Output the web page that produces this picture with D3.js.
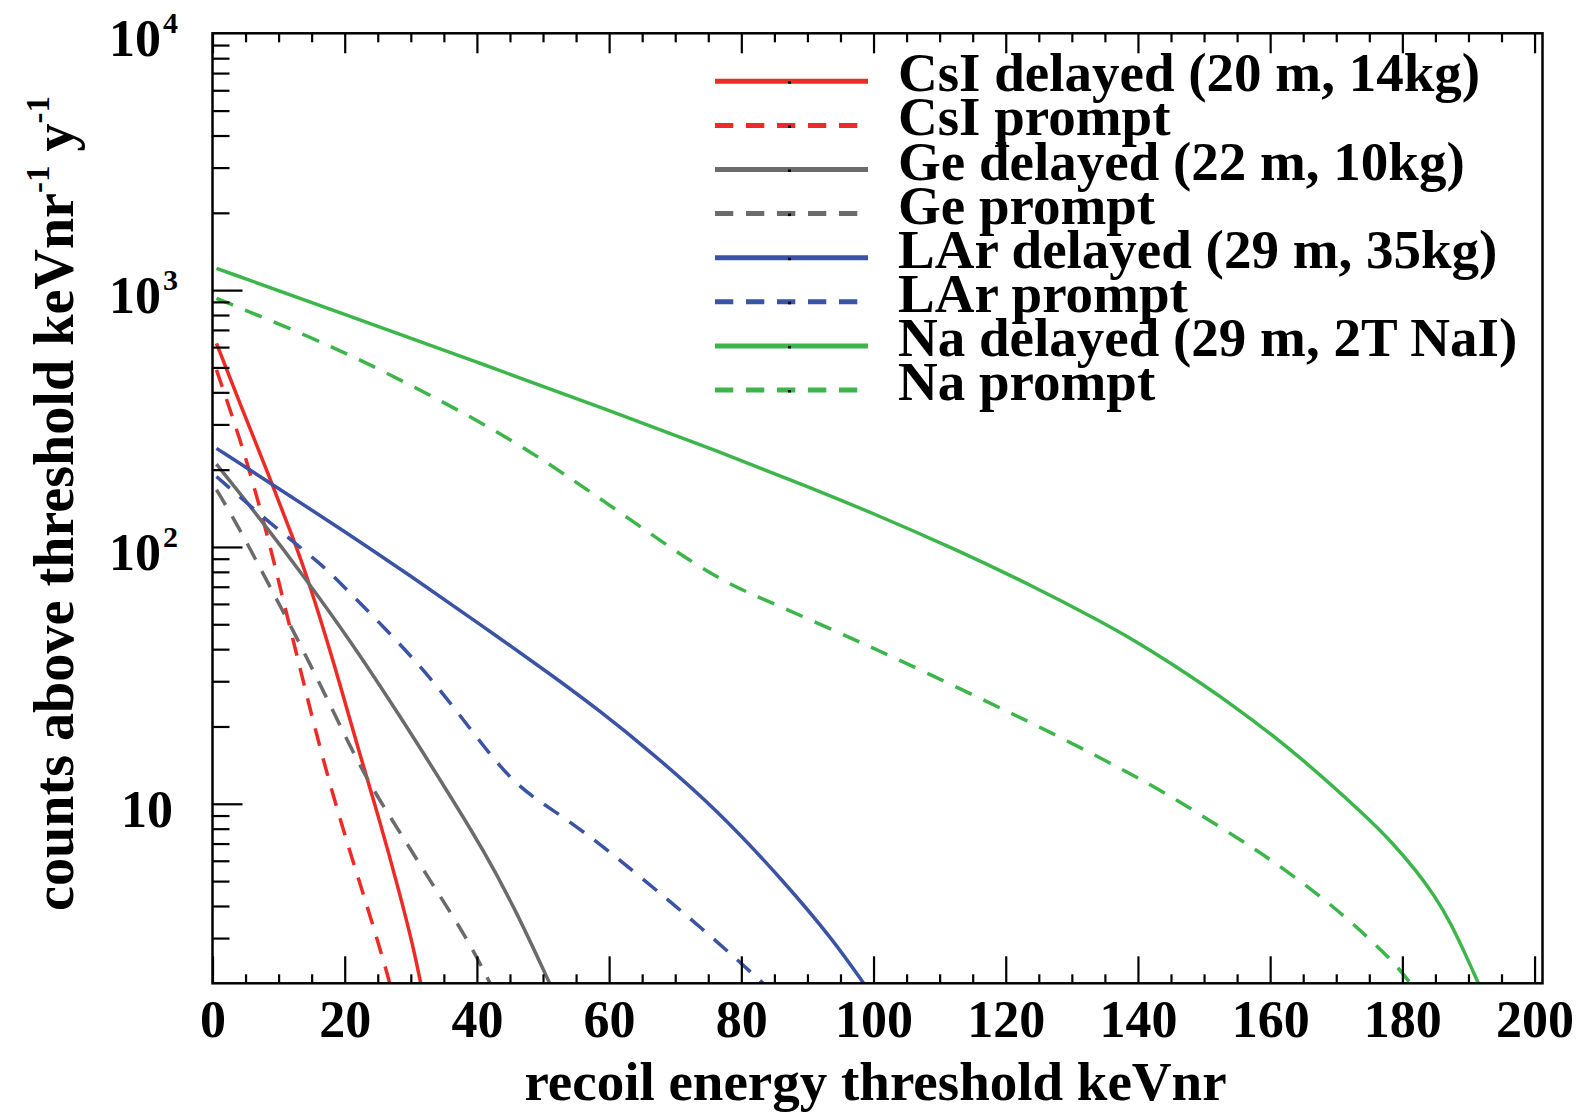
<!DOCTYPE html>
<html>
<head>
<meta charset="utf-8">
<script src="https://cdn.jsdelivr.net/npm/d3@7"></script>
<style>
body { margin: 0; background: #fff; }
svg text { font-family: "Liberation Serif", "Times New Roman", serif; font-weight: bold; fill: #000; }
</style>
</head>
<body>
<svg id="chart" width="1578" height="1112" viewBox="0 0 1578 1112"></svg>
<script>
// curves: [threshold keVnr, counts]
const csiDelayed = [[0.6,621],[4,370],[8.7,185],[12.2,108],[14.3,77],[18.3,36],[22.3,15.5],[25.3,8.6],[28.4,4.4],[30.4,2.75],[31.5,2.0]]
const csiPrompt = [[0.6,489],[4.2,262],[6.7,158],[8.7,101],[10.2,70],[12.7,38.5],[15.3,20.5],[18.3,10.6],[21.3,5.9],[23.8,3.7],[26.4,2.2],[26.8,2.0]]
const geDelayed = [[0.6,210],[7.2,129],[14.3,74],[20.8,43.3],[28.4,21.9],[35.9,10.8],[41,6.6],[46,3.8],[51,2.0]]
const gePrompt = [[0.6,167],[3.7,123],[8.2,74],[11.7,50],[15.8,31],[20.3,17.8],[23.5,12.3],[26.4,9.3],[33.4,4.8],[38.5,3.0],[42,2.0]]
const larDelayed = [[0.6,242],[10,169],[20,115],[30,77],[40,51],[51.1,32],[58.6,23],[66.2,16.0],[76.3,9.5],[86.4,5.0],[93.9,2.95],[98.5,2.0]]
const larPrompt = [[0.6,188],[8.2,127],[12.2,105],[16.3,86],[18.3,77],[26.4,47.4],[33.4,30.3],[41,16.7],[45,12.6],[48.5,10.6],[51.1,9.6],[56.1,7.8],[61.2,6.17],[68.7,4.27],[73.8,3.31],[79.3,2.48],[83.3,2.0]]
const naDelayed = [[0.6,1216],[20,805],[40,525],[60,340],[77,233],[90,172],[100,135],[112,99],[124.2,70.3],[134.3,51.4],[139.3,43.5],[144.4,36.1],[154.5,24.2],[164.5,15.3],[174.6,8.9],[178.5,7.05],[182.2,5.46],[185,4.33],[187.2,3.48],[189.8,2.51],[191.5,2.0]]
const naPrompt = [[0.6,929],[14.75,659],[25,497],[35.4,361],[42,291],[48.5,231],[53.5,190],[58.6,154.5],[66.8,110],[72.7,86.7],[77.8,72.6],[82,64.7],[86.4,57.9],[94.4,46.8],[100.5,39.8],[108,32.4],[117,25.1],[125,20],[134.3,15.1],[141.9,11.9],[148.4,9.44],[155.5,7.24],[160.5,5.96],[167.1,4.47],[172.1,3.5],[178.7,2.43],[181.2,2.0]]

const seriesNames = ["CsI delayed (20 m, 14kg)","CsI prompt","Ge delayed (22 m, 10kg)","Ge prompt",
    "LAr delayed (29 m, 35kg)","LAr prompt","Na delayed (29 m, 2T NaI)","Na prompt"]
const seriesData = [csiDelayed, csiPrompt, geDelayed, gePrompt, larDelayed, larPrompt, naDelayed, naPrompt]
const seriesColors = ["#ee2a24","#ee2a24","#6b6b6b","#6b6b6b","#3a53a4","#3a53a4","#3cb64a","#3cb64a"]
const seriesDashed = [false,true,false,true,false,true,false,true]

const xMajor = [0,20,40,60,80,100,120,140,160,180,200]
const xMinor = d3.range(5, 200, 5).filter(d => d % 20 != 0)
const yMajor = [10,100,1000]
const yMinor = [3,4,5,6,7,8,9,20,30,40,50,60,70,80,90,200,300,400,500,600,700,800,900,2000,3000,4000,5000,6000,7000,8000,9000]
const yLabels = [{v:10, e:null},{v:100, e:"2"},{v:1000, e:"3"},{v:10000, e:"4"}]

const svg = d3.select("#chart")
const plotLeft = 212.5, plotRight = 1542.5, plotTop = 33.3, plotBottom = 983.3

const x = d3.scaleLinear().domain([0, 201.2]).range([plotLeft, plotRight])
const y = d3.scaleLog().domain([2, 10000]).range([plotBottom, plotTop])

svg.append("clipPath").attr("id","plotclip")
    .append("rect").attr("x",plotLeft).attr("y",plotTop)
    .attr("width",plotRight-plotLeft).attr("height",plotBottom-plotTop)

const line = d3.line()
    .x(d => x(d[0]))
    .y(d => y(d[1]))
    .curve(d3.curveBasis)

const curves = svg.append("g").attr("clip-path","url(#plotclip)")
seriesData.forEach((s,i)=>{
    curves.append("path")
        .attr("d", line(s))
        .attr("fill","none")
        .attr("stroke", seriesColors[i])
        .attr("stroke-width", 3.5)
        .attr("stroke-dasharray", seriesDashed[i] ? "18,13" : null)
})

// axes ticks (all pointing inward)
function styleAxis(g){
    g.select(".domain").remove()
    g.selectAll("line").attr("stroke","#000").attr("stroke-width",2.2)
}
svg.append("g").attr("transform",`translate(0,${plotBottom})`)
    .call(d3.axisBottom(x).tickValues(xMajor).tickSize(-27).tickPadding(16.5).tickFormat(d3.format("d")))
    .call(styleAxis)
    .selectAll("text").style("font-size","52px").attr("fill","#000")
svg.append("g").attr("transform",`translate(0,${plotBottom})`)
    .call(d3.axisBottom(x).tickValues(xMinor).tickSize(-9).tickFormat(""))
    .call(styleAxis)
svg.append("g").attr("transform",`translate(0,${plotTop})`)
    .call(d3.axisTop(x).tickValues(xMajor).tickSize(-20).tickFormat(""))
    .call(styleAxis)
svg.append("g").attr("transform",`translate(0,${plotTop})`)
    .call(d3.axisTop(x).tickValues(xMinor).tickSize(-9).tickFormat(""))
    .call(styleAxis)
svg.append("g").attr("transform",`translate(${plotLeft},0)`)
    .call(d3.axisLeft(y).tickValues(yMajor).tickSize(-30).tickFormat(""))
    .call(styleAxis)
svg.append("g").attr("transform",`translate(${plotLeft},0)`)
    .call(d3.axisLeft(y).tickValues(yMinor).tickSize(-17).tickFormat(""))
    .call(styleAxis)

// y tick labels 10, 10^2 ...
const ylab = svg.append("g").selectAll("text").data(yLabels).enter().append("text")
    .attr("text-anchor","end")
    .attr("x", d => d.e ? 178 : 173)
    .attr("y", d => y(d.v) + 23)
    .style("font-size","52px")
ylab.append("tspan").text("10")
ylab.filter(d => d.e).append("tspan")
    .attr("dx", 2).attr("dy", -23)
    .style("font-size","30px")
    .text(d => d.e)

// frame
svg.append("rect")
    .attr("x",plotLeft).attr("y",plotTop)
    .attr("width",plotRight-plotLeft).attr("height",plotBottom-plotTop)
    .attr("fill","none").attr("stroke","#000").attr("stroke-width",2.5)

// axis titles
svg.append("text")
    .attr("x", (plotLeft+plotRight)/2 - 2).attr("y", 1100)
    .attr("text-anchor","middle")
    .style("font-size","55px")
    .text("recoil energy threshold keVnr")

const yt = svg.append("g").attr("transform","translate(73,503.5) rotate(-90)")
const ytext = yt.append("text").attr("text-anchor","middle").style("font-size","58px")
ytext.append("tspan").text("counts above threshold keVnr")
ytext.append("tspan").attr("dy",-24).style("font-size","34px").text("-1")
ytext.append("tspan").attr("dy",24).text(" y")
ytext.append("tspan").attr("dy",-24).style("font-size","34px").text("-1")
const yw = ytext.node().getBBox().width
yt.attr("transform",`translate(73,503.5) rotate(-90) scale(${815/yw},1)`)

// legend
const legend = svg.append("g").selectAll("g").data(seriesNames).enter().append("g")
    .attr("transform",(d,i)=>`translate(0,${81.3 + 44.1*i})`)
legend.append("line")
    .attr("x1",715).attr("x2",(d,i)=> seriesDashed[i] ? 858 : 868)
    .attr("stroke",(d,i)=>seriesColors[i])
    .attr("stroke-width",5)
    .attr("stroke-dasharray",(d,i)=> seriesDashed[i] ? "18.3,12.7" : null)
legend.append("rect")
    .attr("x",788).attr("y",0).attr("width",3).attr("height",2.5).attr("fill","#000")
legend.append("text")
    .attr("x",898).attr("y",10)
    .style("font-size","55px")
    .text(d=>d)
</script>
</body>
</html>
